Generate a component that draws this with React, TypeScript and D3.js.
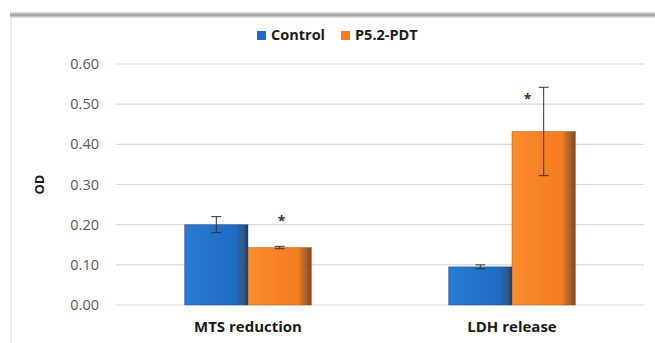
import React from "react";
import * as d3 from "d3";

const categories = ["MTS reduction", "LDH release"];
const seriesNames = ["Control", "P5.2-PDT"];
const controlValues = [0.2, 0.095];
const controlErrors = [0.02, 0.005];
const pdtValues = [0.143, 0.432];
const pdtErrors = [0.003, 0.11];
const significant = [true, true];
const yTicks = [0, 0.1, 0.2, 0.3, 0.4, 0.5, 0.6];

const W = 655;
const H = 343;
const left = 116;
const right = 644;
const top = 64;
const bottom = 305;

const colors = [
  { light: "#2B7BD3", main: "#1E6CC4", dark: "#0F3F78" },
  { light: "#FA8C2E", main: "#F47B20", dark: "#8E4510" },
];

export default function App() {
  const x0 = d3
    .scaleBand<string>()
    .domain(categories)
    .range([left, right])
    .paddingInner(0.52)
    .paddingOuter(0.26);
  const x1 = d3
    .scaleBand<string>()
    .domain(seriesNames)
    .range([0, x0.bandwidth()]);
  const y = d3.scaleLinear().domain([0, 0.6]).range([bottom, top]);

  const series = [
    { name: seriesNames[0], values: controlValues, errors: controlErrors },
    { name: seriesNames[1], values: pdtValues, errors: pdtErrors },
  ];

  const font = "'Open Sans', 'Liberation Sans', sans-serif";
  const legendX = [257, 341];

  return (
    <svg
      width={W}
      height={H}
      style={{ position: "absolute", left: 0, top: 0, background: "#fff" }}
    >
      <defs>
        {colors.map((c, i) => (
          <linearGradient key={i} id={`bar${i}`} x1="0" x2="1" y1="0" y2="0">
            <stop offset="0" stopColor={c.light} />
            <stop offset="0.8" stopColor={c.main} />
            <stop offset="0.92" stopColor={c.dark} stopOpacity={0.85} />
            <stop offset="1" stopColor={c.dark} />
          </linearGradient>
        ))}
        <linearGradient id="band" x1="0" x2="0" y1="0" y2="1">
          <stop offset="0" stopColor="#e6e6e6" />
          <stop offset="0.5" stopColor="#9a9a9a" />
          <stop offset="1" stopColor="#eeeeee" />
        </linearGradient>
      </defs>

      {/* frame */}
      <rect x={10} y={12} width={W - 10} height={6} fill="url(#band)" />
      <line x1={11} x2={11} y1={18} y2={H} stroke="#dcdcdc" strokeWidth={1} />

      {/* legend */}
      <g fontFamily={font} fontWeight="bold" fontSize={14.5} fill="#1a1a1a">
        {seriesNames.map((name, i) => (
          <g key={name}>
            <rect x={legendX[i]} y={31} width={9} height={9} fill={colors[i].main} />
            <text x={legendX[i] + 14} y={40}>{name}</text>
          </g>
        ))}
      </g>

      {/* gridlines and tick labels */}
      {yTicks.map((t) => (
        <g key={t}>
          <line
            x1={left}
            x2={right}
            y1={y(t)}
            y2={y(t)}
            stroke="#d9d9d9"
            strokeWidth={1.2}
          />
          <text
            x={99}
            y={y(t)}
            dy="0.35em"
            textAnchor="end"
            fontFamily={font}
            fontSize={14.5}
            fill="#595959"
          >
            {d3.format(".2f")(t)}
          </text>
        </g>
      ))}

      {/* axis title */}
      <text
        transform={`translate(39,${(top + bottom) / 2}) rotate(-90)`}
        textAnchor="middle"
        dy="0.35em"
        fontFamily={font}
        fontWeight="bold"
        fontSize={13}
        fill="#1a1a1a"
      >
        OD
      </text>

      {/* bars */}
      {categories.map((cat, ci) => (
        <g key={cat} transform={`translate(${x0(cat)},0)`}>
          {series.map((s, si) => {
            const bx = x1(s.name) as number;
            const bw = x1.bandwidth();
            const v = s.values[ci];
            const e = s.errors[ci];
            const cx = bx + bw / 2;
            return (
              <g key={s.name}>
                <rect
                  x={bx}
                  y={y(v)}
                  width={bw}
                  height={y(0) - y(v)}
                  fill={`url(#bar${si})`}
                  stroke={colors[si].dark}
                  strokeOpacity={0.5}
                  strokeWidth={0.8}
                />
                <g stroke="#333" strokeWidth={1}>
                  <line x1={cx} x2={cx} y1={y(v + e)} y2={y(v - e)} />
                  <line x1={cx - 5} x2={cx + 5} y1={y(v + e)} y2={y(v + e)} />
                  <line x1={cx - 5} x2={cx + 5} y1={y(v - e)} y2={y(v - e)} />
                </g>
              </g>
            );
          })}
        </g>
      ))}

      {/* significance markers */}
      {categories.map((cat, ci) => {
        if (!significant[ci]) return null;
        const s = series[1];
        const errTop = y(s.values[ci] + s.errors[ci]);
        const bx = (x0(cat) as number) + (x1(s.name) as number);
        const cx = ci === 0 ? bx + x1.bandwidth() / 2 + 2 : bx + x1.bandwidth() / 2 - 16;
        const sy = ci === 0 ? errTop - 20 : errTop + 17;
        return (
          <text
            key={cat}
            x={cx}
            y={sy}
            textAnchor="middle"
            fontFamily={font}
            fontWeight="bold"
            fontSize={14}
            fill="#333"
          >
            *
          </text>
        );
      })}

      {/* category labels */}
      {categories.map((cat) => (
        <text
          key={cat}
          x={(x0(cat) as number) + x0.bandwidth() / 2}
          y={332}
          textAnchor="middle"
          fontFamily={font}
          fontWeight="bold"
          fontSize={15}
          fill="#1a1a1a"
        >
          {cat}
        </text>
      ))}
    </svg>
  );
}
